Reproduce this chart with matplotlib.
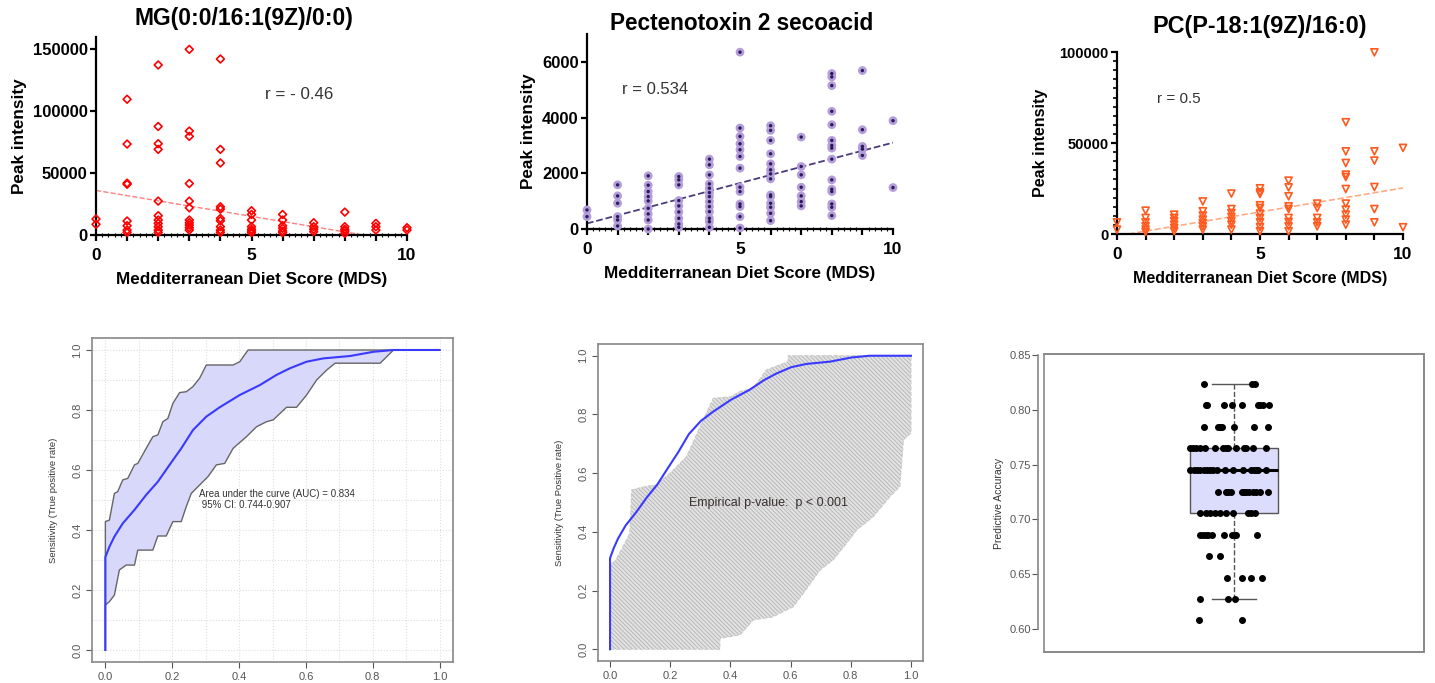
import numpy as np
import matplotlib
matplotlib.use("Agg")
import matplotlib.pyplot as plt
from matplotlib.ticker import MultipleLocator
from matplotlib.patches import Rectangle

plt.rcParams['font.family'] = ['Liberation Sans', 'DejaVu Sans']
plt.rcParams['hatch.linewidth'] = 0.7

# ---- top row: peak intensity vs MDS ----
mg_x = [0, 0,
        1, 1, 1, 1, 1, 1, 1, 1,
        2, 2, 2, 2, 2, 2, 2, 2, 2, 2, 2,
        3, 3, 3, 3, 3, 3, 3, 3, 3, 3, 3,
        4, 4, 4, 4, 4, 4, 4, 4, 4, 4,
        5, 5, 5, 5, 5, 5, 5,
        6, 6, 6, 6, 6, 6,
        7, 7, 7, 7,
        8, 8, 8, 8, 8,
        9, 9, 9,
        10, 10]
mg_y = [12900, 8600,
        109700, 73500, 41900, 41000, 11300, 7500, 4000, 2100,
        137400, 87700, 73800, 69200, 27400, 15600, 12100, 9400, 6700, 4000, 2100,
        150000, 84000, 79700, 41600, 27400, 22000, 12100, 9900, 8000, 5900, 4000,
        142200, 69200, 58200, 22800, 20900, 13400, 11500, 6700, 4000, 2100,
        19600, 16600, 12100, 6700, 4600, 3200, 1900,
        16600, 12100, 7500, 5400, 3200, 1900,
        9900, 6700, 4600, 2700,
        18500, 6700, 4600, 3200, 1300,
        9400, 6700, 4000,
        5900, 4000]
mg_fit_x = [0, 8.6]
mg_fit_y = [36000, 0]

ptx_x = [0, 0,
         1, 1, 1, 1, 1, 1,
         2, 2, 2, 2, 2, 2, 2, 2, 2,
         3, 3, 3, 3, 3, 3, 3, 3, 3,
         4, 4, 4, 4, 4, 4, 4, 4, 4, 4, 4, 4, 4,
         5, 5, 5, 5, 5, 5, 5, 5, 5, 5, 5, 5, 5,
         6, 6, 6, 6, 6, 6, 6, 6, 6, 6, 6, 6, 6, 6,
         7, 7, 7, 7, 7, 7, 7,
         8, 8, 8, 8, 8, 8, 8, 8, 8, 8, 8, 8, 8, 8, 8,
         9, 9, 9, 9, 9,
         10, 10]
ptx_y = [684, 444,
         1584, 1188, 924, 444, 324, 108,
         1908, 1572, 1344, 1164, 1008, 744, 540, 324, 0,
         1884, 1764, 1584, 1020, 828, 612, 384, 180, 60,
         2508, 2304, 1944, 1620, 1464, 1308, 1164, 984, 804, 624, 384, 264, 60,
         6348, 3624, 3324, 3060, 2844, 2604, 2184, 1500, 1344, 900, 804, 444, 36,
         3708, 3540, 3180, 2700, 2340, 2124, 1980, 1800, 1224, 1164, 924, 780, 564, 300,
         3300, 2244, 1944, 1500, 1188, 984, 828,
         5580, 5460, 5148, 4224, 3744, 3180, 3000, 2904, 2508, 1764, 1428, 1344, 900, 780, 480,
         5688, 3564, 2964, 2868, 2640,
         3888, 1488]
ptx_fit_x = [0, 10]
ptx_fit_y = [200, 3100]

pc_x = [0, 0,
        1, 1, 1, 1, 1, 1,
        2, 2, 2, 2, 2, 2,
        3, 3, 3, 3, 3, 3, 3,
        4, 4, 4, 4, 4, 4, 4,
        5, 5, 5, 5, 5, 5, 5, 5, 5, 5,
        6, 6, 6, 6, 6, 6, 6, 6, 6,
        7, 7, 7, 7, 7,
        8, 8, 8, 8, 8, 8, 8, 8, 8, 8, 8,
        9, 9, 9, 9, 9, 9,
        10, 10]
pc_y = [6400, 2400,
        12800, 8800, 6400, 4200, 2400, 1100,
        10600, 8800, 7000, 5100, 3300, 1500,
        17900, 12500, 10100, 7900, 6000, 4200, 2400,
        22200, 13700, 11500, 9300, 7000, 5100, 2400,
        25100, 22900, 22000, 15800, 14300, 11200, 8800, 6400, 3800, 1500,
        29300, 25600, 20700, 15200, 13700, 8800, 6600, 4200, 1500,
        16700, 14300, 8800, 6400, 4200,
        61400, 45400, 39000, 32600, 31300, 24700, 16700, 13400, 10600, 7900, 5100,
        99800, 45400, 40300, 25800, 13700, 6400,
        47300, 3700]
pc_fit_x = [0.4, 10]
pc_fit_y = [0, 25300]

# ---- bottom row: ROC, permutation ROC, accuracy ----
roc_fpr = [0, 0, 0.012, 0.027, 0.052, 0.087, 0.122, 0.157, 0.192, 0.227, 0.262, 0.302,
           0.342, 0.402, 0.462, 0.512, 0.552, 0.602, 0.652, 0.732, 0.802, 0.862, 1.0]
roc_tpr = [0, 0.31, 0.344, 0.378, 0.422, 0.467, 0.517, 0.561, 0.617, 0.672, 0.733, 0.778,
           0.809, 0.85, 0.883, 0.917, 0.939, 0.961, 0.972, 0.98, 0.994, 1.0, 1.0]

ci_up_x = [0, 0, 0.012, 0.027, 0.037, 0.052, 0.067, 0.087, 0.097, 0.122, 0.142, 0.157,
           0.172, 0.187, 0.202, 0.222, 0.242, 0.262, 0.282, 0.302, 0.382, 0.402, 0.427, 1.0]
ci_up_y = [0, 0.428, 0.433, 0.522, 0.528, 0.567, 0.572, 0.617, 0.622, 0.672, 0.711, 0.717,
           0.761, 0.772, 0.822, 0.858, 0.861, 0.878, 0.906, 0.95, 0.95, 0.961, 1.0, 1.0]
ci_lo_x = [0, 0, 0.012, 0.027, 0.042, 0.062, 0.087, 0.097, 0.142, 0.157, 0.182, 0.202,
           0.227, 0.242, 0.257, 0.282, 0.307, 0.332, 0.357, 0.382, 0.422, 0.452, 0.482,
           0.502, 0.542, 0.572, 0.602, 0.632, 0.662, 0.687, 0.822, 0.862, 1.0]
ci_lo_y = [0, 0.15, 0.161, 0.183, 0.267, 0.283, 0.283, 0.333, 0.333, 0.38, 0.38, 0.428,
           0.428, 0.478, 0.522, 0.55, 0.578, 0.617, 0.622, 0.672, 0.711, 0.744, 0.761,
           0.767, 0.809, 0.809, 0.85, 0.9, 0.933, 0.956, 0.956, 1.0, 1.0]

perm_up_x = [0, 0, 0.017, 0.066, 0.072, 0.12, 0.155, 0.21, 0.255, 0.30, 0.343, 0.40,
             0.432, 0.476, 0.52, 0.592, 0.592, 0.975, 1.0]
perm_up_y = [0, 0.29, 0.30, 0.395, 0.543, 0.555, 0.56, 0.61, 0.657, 0.76, 0.855, 0.86,
             0.878, 0.89, 0.952, 0.98, 1.0, 1.0, 1.0]
perm_lo_x = [0, 0.365, 0.365, 0.432, 0.476, 0.54, 0.609, 0.642, 0.698, 0.742, 0.786,
             0.82, 0.875, 0.93, 0.963, 0.975, 1.0, 1.0]
perm_lo_y = [0, 0, 0.037, 0.049, 0.10, 0.11, 0.145, 0.19, 0.27, 0.305, 0.361, 0.407,
             0.452, 0.52, 0.555, 0.714, 0.736, 1.0]

acc_levels = [0.824, 0.804, 0.784, 0.765, 0.745, 0.725, 0.706, 0.686, 0.667, 0.647, 0.627, 0.608]
acc_jitter = [
    [-0.080, 0.047, 0.056],
    [-0.075, -0.071, -0.027, -0.006, 0.022, 0.064, 0.069, 0.076, 0.092],
    [-0.080, -0.041, -0.036, -0.031, -0.001, 0.052, 0.089],
    [-0.117, -0.108, -0.099, -0.089, -0.077, -0.051, -0.029, -0.022, -0.016, 0.006,
     0.025, 0.031, 0.050, 0.085],
    [-0.117, -0.106, -0.097, -0.089, -0.080, -0.071, -0.062, -0.054, -0.046, -0.024,
     -0.003, 0.024, 0.046, 0.052, 0.059, 0.064, 0.085],
    [-0.041, -0.022, -0.015, -0.008, 0.022, 0.027, 0.032, 0.039, 0.050, 0.059, 0.069, 0.089],
    [-0.089, -0.073, -0.062, -0.050, -0.038, -0.022, -0.003, 0.037, 0.046, 0.054],
    [-0.089, -0.082, -0.075, -0.068, -0.057, -0.026, -0.004, 0.002, 0.006, 0.061],
    [-0.067, -0.038],
    [-0.018, 0.022, 0.046, 0.073],
    [-0.089, -0.017, 0.003],
    [-0.093, 0.022],
]

W, H = 1435, 683
fig = plt.figure(figsize=(W / 100, H / 100), dpi=100)


def rect(l, t, r, b):
    return [l / W, 1 - b / H, (r - l) / W, (b - t) / H]


def style_top(ax, ymax, yticks, xminor=True, ysize=12, lsize=12.3):
    ax.set_xlim(0, 10)
    ax.set_ylim(0, ymax)
    for s in ['top', 'right']:
        ax.spines[s].set_visible(False)
    for s in ['left', 'bottom']:
        ax.spines[s].set_linewidth(1.6)
    ax.set_xticks(range(11), ['0', '', '', '', '', '5', '', '', '', '', '10'],
                  fontweight='bold', fontsize=12.5)
    ax.set_yticks(yticks, [str(v) for v in yticks], fontweight='bold', fontsize=ysize)
    ax.tick_params(width=1.6, length=4, pad=2)
    ax.tick_params(axis='x', pad=5)
    if xminor:
        ax.xaxis.set_minor_locator(MultipleLocator(0.2))
        ax.tick_params(axis='x', which='minor', direction='inout', length=3, width=0.8)
    ax.set_ylabel('Peak intensity', fontweight='bold', fontsize=lsize, labelpad=4)
    ax.set_xlabel('Medditerranean Diet Score (MDS)', fontweight='bold', fontsize=lsize,
                  labelpad=7)


# panel 1
ax1 = fig.add_axes(rect(96, 37, 407, 235))
ax1.scatter(mg_x, mg_y, marker='D', s=16, facecolors='none', edgecolors='#ff0000',
            linewidths=1.2, clip_on=False, zorder=3)
ax1.plot(mg_fit_x, mg_fit_y, ls='--', color='#ff7f7f', lw=1)
style_top(ax1, 160000, [0, 50000, 100000, 150000])
ax1.text(5.43, 113700, 'r = - 0.46', fontsize=12.2, color='#333333', va='center')
fig.text(244 / W, 1 - 18 / H, 'MG(0:0/16:1(9Z)/0:0)', ha='center', va='center',
         fontsize=16.5, fontweight='bold')

# panel 2
ax2 = fig.add_axes(rect(587, 34, 893, 229))
ax2.scatter(ptx_x, ptx_y, marker='o', s=40, color='#b39ddb', edgecolors='none',
            clip_on=False, zorder=3)
ax2.scatter(ptx_x, ptx_y, marker='o', s=6, color='#2a1a55', edgecolors='none',
            clip_on=False, zorder=4)
ax2.plot(ptx_fit_x, ptx_fit_y, ls='--', color='#4b3b7d', lw=1.3)
style_top(ax2, 7000, [0, 2000, 4000, 6000])
ax2.text(1.14, 5000, 'r = 0.534', fontsize=12, color='#333333', va='center')
fig.text(742 / W, 1 - 23 / H, 'Pectenotoxin 2 secoacid', ha='center', va='center',
         fontsize=16.3, fontweight='bold')

# panel 3
ax3 = fig.add_axes(rect(1117, 52, 1403, 234))
ax3.scatter(pc_x, pc_y, marker='v', s=26, facecolors='none', edgecolors='#ff5a1f',
            linewidths=1.2, clip_on=False, zorder=3)
ax3.plot(pc_fit_x, pc_fit_y, ls='--', color='#ffab85', lw=1.2)
style_top(ax3, 100000, [0, 50000, 100000], xminor=False, ysize=10.5, lsize=11.5)
ax3.yaxis.set_minor_locator(MultipleLocator(5000))
ax3.tick_params(axis='y', which='minor', length=3, width=1.2)
ax3.yaxis.labelpad = 8
ax3.text(1.4, 74000, 'r = 0.5', fontsize=11, color='#333333', va='center')
fig.text(1260 / W, 1 - 26 / H, 'PC(P-18:1(9Z)/16:0)', ha='center', va='center',
         fontsize=16.8, fontweight='bold')


def style_r(ax, ylabel, lsize=6.8, pad=3, labelpad=10):
    for s in ax.spines.values():
        s.set_color('#888888')
        s.set_linewidth(1.2)
    ax.tick_params(colors='#555555', labelsize=8, length=4, width=0.8, pad=pad)
    for lab in ax.get_yticklabels():
        lab.set_rotation(90)
        lab.set_va('center')
    ax.set_ylabel(ylabel, fontsize=lsize, color='#333333', labelpad=labelpad)


# panel 4: ROC with CI
ax4 = fig.add_axes(rect(92, 338, 453, 662))
ax4.set_xlim(-0.04, 1.04)
ax4.set_ylim(-0.04, 1.04)
ax4.set_xticks(np.arange(0, 1.01, 0.2), ['0.0', '0.2', '0.4', '0.6', '0.8', '1.0'])
ax4.set_yticks(np.arange(0, 1.01, 0.2), ['0.0', '0.2', '0.4', '0.6', '0.8', '1.0'])
ax4.set_xticks(np.arange(0, 1.01, 0.1), minor=True)
ax4.set_yticks(np.arange(0, 1.01, 0.1), minor=True)
ax4.tick_params(which='minor', length=0)
ax4.grid(which='both', ls=':', color='#dddddd', lw=0.8)
ax4.set_axisbelow(True)
band_x = ci_up_x + ci_lo_x[::-1]
band_y = ci_up_y + ci_lo_y[::-1]
ax4.fill(band_x, band_y, facecolor='#d8d8fa', edgecolor='none')
ax4.plot(ci_up_x, ci_up_y, color='#666666', lw=1)
ax4.plot(ci_lo_x, ci_lo_y, color='#666666', lw=1)
ax4.plot(roc_fpr, roc_tpr, color='#3a3aff', lw=1.5)
ax4.text(0.28, 0.503, 'Area under the curve (AUC) = 0.834\n 95% CI: 0.744-0.907',
         fontsize=7, color='#333333', va='center', ha='left', linespacing=1.1)
style_r(ax4, 'Sensitivity (True positive rate)')

# panel 5: permutation ROC
ax5 = fig.add_axes(rect(598, 344, 923, 661))
ax5.set_xlim(-0.04, 1.04)
ax5.set_ylim(-0.04, 1.04)
ax5.set_xticks(np.arange(0, 1.01, 0.2), ['0.0', '0.2', '0.4', '0.6', '0.8', '1.0'])
ax5.set_yticks(np.arange(0, 1.01, 0.2), ['0.0', '0.2', '0.4', '0.6', '0.8', '1.0'])
perm_x = perm_up_x + perm_lo_x[::-1]
perm_y = perm_up_y + perm_lo_y[::-1]
ax5.fill(perm_x, perm_y, facecolor='#e3e3e3', edgecolor='none')
ax5.fill(perm_x, perm_y, facecolor='none', edgecolor='#b8b8b8', hatch='\\' * 8, lw=0)
ax5.plot(perm_up_x, perm_up_y, color='#cccccc', ls='--', lw=0.8)
ax5.plot(perm_lo_x, perm_lo_y, color='#cccccc', ls='--', lw=0.8)
ax5.plot(roc_fpr, roc_tpr, color='#3a3aff', lw=1.5)
ax5.text(0.528, 0.498, 'Empirical p-value:  p < 0.001', fontsize=9, color='#3a3030',
         ha='center', va='center')
style_r(ax5, 'Sensitivity (True Positive rate)')

# panel 6: predictive accuracy box + strip
ax6 = fig.add_axes(rect(1044, 354, 1424, 652))
acc_vals = []
strip_x = []
strip_y = []
for lvl, jit in zip(acc_levels, acc_jitter):
    for j in jit:
        acc_vals.append(lvl)
        strip_x.append(1 + j)
        strip_y.append(lvl)
ax6.boxplot(acc_vals, positions=[1], widths=0.23, showfliers=False, patch_artist=True,
            boxprops=dict(facecolor='#dcdcfc', edgecolor='#555555', lw=1),
            medianprops=dict(color='black', lw=2.2),
            whiskerprops=dict(color='#555555', ls='--', lw=1),
            capprops=dict(color='#555555', lw=1), capwidths=0.115)
ax6.scatter(strip_x, strip_y, s=16, color='black', zorder=4)
ax6.set_xlim(0.5, 1.5)
ax6.set_ylim(0.579, 0.851)
ax6.set_xticks([])
ax6.set_yticks(np.arange(0.60, 0.851, 0.05), ['0.60', '0.65', '0.70', '0.75', '0.80', '0.85'])
style_r(ax6, 'Predictive Accuracy', lsize=7.5, pad=1, labelpad=4)
ax6.spines['left'].set_position(('outward', 4))
ax6.spines['left'].set_bounds(0.60, 0.85)
ax6.add_patch(Rectangle((0, 0), 1, 1, transform=ax6.transAxes, fill=False,
                        edgecolor='#888888', lw=1.2, clip_on=False))

fig.savefig('out.png', dpi=100)
